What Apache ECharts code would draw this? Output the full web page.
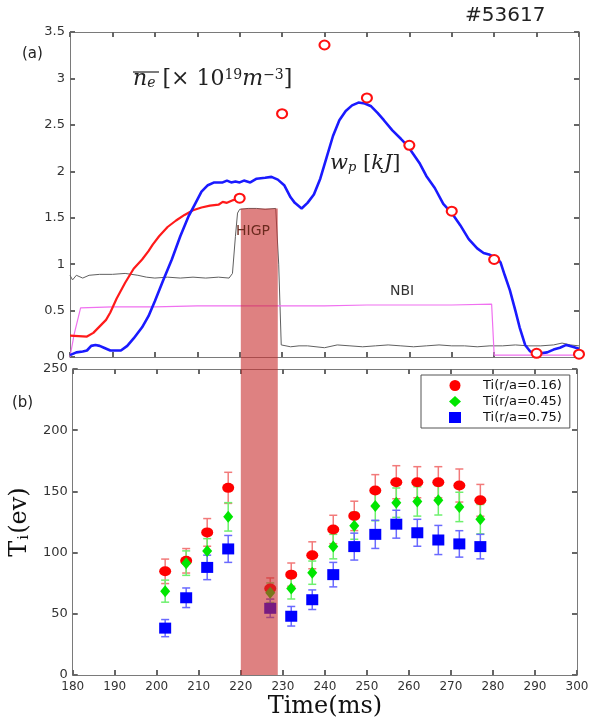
<!DOCTYPE html>
<html><head><meta charset="utf-8">
<script src="https://cdn.jsdelivr.net/npm/echarts@6/dist/echarts.min.js"></script>
<style>html,body{margin:0;padding:0;background:#fff}#c{width:593px;height:720px}</style>
</head><body><div id="c"></div>
<script>
// ---- panel (a) data ----
const neT = [180,184,185.5,187,188.5,189.5,191,193,195,197,198.5,199.5,201,203,205,207,209,211,213,215,216,217,218.5,219.5];
const neV = [0.23,0.22,0.26,0.33,0.40,0.48,0.63,0.80,0.95,1.05,1.14,1.21,1.30,1.40,1.47,1.53,1.58,1.61,1.63,1.64,1.67,1.66,1.69,1.70];

const wpT = [180,181.5,183,184,185,186,187,188,189.5,192,193.5,195,197,198.5,200,202,204,206,208,209.5,211,212.5,214,216,217,218,219,220,221,222.5,224,226,227.5,229,230.5,232,233,234.6,236,237.5,239,240.5,242,243.5,245,246.5,248,249.5,251,252.5,254,256,258,259.5,261,262.5,264,266,268,270,272,274,276,277.5,279,280.5,281.5,282.5,283.7,285,286,287.3,288.5,289.5,291,292.5,294,295.5,297,298.5,300];
const wpV = [0.02,0.05,0.06,0.07,0.12,0.13,0.12,0.10,0.07,0.07,0.12,0.20,0.32,0.44,0.60,0.83,1.05,1.30,1.52,1.65,1.78,1.85,1.88,1.88,1.90,1.88,1.89,1.88,1.90,1.88,1.92,1.93,1.94,1.91,1.85,1.72,1.66,1.60,1.66,1.75,1.92,2.15,2.38,2.55,2.65,2.71,2.74,2.73,2.70,2.63,2.55,2.44,2.35,2.28,2.18,2.08,1.95,1.82,1.65,1.55,1.42,1.27,1.17,1.12,1.10,1.07,1.02,0.88,0.72,0.50,0.32,0.13,0.06,0.04,0.04,0.05,0.08,0.10,0.13,0.11,0.09];

const higpT = [180,180.6,181.5,183,184.5,187,190,193,196,198,200,203,206,209,212,215,217.5,218.3,219,219.5,220,222,224,226,228.5,229.2,229.8,232,234,236,238,240,243,246,249,252,255,258,261,264,267,270,273,276,279,282,285,288,291,294,296,298,300];
const higpV = [0.88,0.83,0.88,0.85,0.88,0.89,0.89,0.90,0.88,0.86,0.85,0.86,0.85,0.86,0.85,0.86,0.85,0.90,1.30,1.55,1.59,1.60,1.60,1.59,1.60,1.00,0.13,0.11,0.12,0.12,0.11,0.10,0.13,0.12,0.11,0.12,0.13,0.12,0.11,0.12,0.13,0.12,0.12,0.11,0.12,0.12,0.13,0.12,0.12,0.13,0.15,0.13,0.12];

const nbiT = [180,181,182.5,190,200,210,220,230,240,250,260,270,279.4,280,300];
const nbiV = [0.00,0.25,0.53,0.54,0.54,0.55,0.55,0.55,0.55,0.56,0.56,0.56,0.57,0.02,0.02];

const circT = [220,230,240,250,260,270,280,290,300];
const circV = [1.71,2.62,3.36,2.79,2.28,1.57,1.05,0.04,0.03];

const barStart = 220, barEnd = 228.8, barTop = 1.6;

// ---- panel (b) data ----
const tiT = [202,207,212,217,227,232,237,242,247,252,257,262,267,272,277];
const ti16 = [84.7,93.3,116.5,152.9,70.6,82,97.8,118.9,130,150.7,157.5,157.5,157.5,154.8,142.7];
const ti16Err = [10,10,11.3,12.7,8.7,9.5,11,11.6,12,13,13.5,12.7,12.7,13.5,13];
const ti45 = [68.5,91.4,101.4,129.2,67.2,70.6,83.6,104.9,121.9,138,140.8,141.8,142.7,137.3,127.3];
const ti45Err = [9,10,10,11.6,8,8.5,9.5,10,11,12,12,12,12,12,12];
const ti75 = [38.3,63.1,87.9,103,54.5,48,61.5,82,104.9,114.9,123.2,116.2,110.3,107.1,104.9];
const ti75Err = [7,8,10,11,7.5,8,8,10,11,11.5,11.4,11,11.9,10.8,10];

const xTicksMin = 180, xTicksMax = 300, xInterval = 10;
const names = ['Ti(r/a=0.16)','Ti(r/a=0.45)','Ti(r/a=0.75)'];

const pairs = (a,b) => a.map((t,i)=>[t,b[i]]);
const triples = (a,b,c) => a.map((t,i)=>[t,b[i],c[i]]);

const chart = echarts.init(document.getElementById('c'), null, {renderer:'canvas'});
const axisCol = '#7a7a7a';
const mkTick = () => ({show:true, inside:true, length:5, lineStyle:{color:'#666', width:2}});
const lblStyle = {color:'#333', fontFamily:'DejaVu Sans', fontSize:12};

function xAx(grid, pos, labels, name){
  const o = {type:'value', gridIndex:grid, position:pos, min:xTicksMin, max:xTicksMax, interval:xInterval,
    axisLine:{show:true, onZero:false, lineStyle:{color:axisCol, width:1}},
    axisTick:mkTick(),
    axisLabel:Object.assign({show:labels, margin:6}, lblStyle),
    splitLine:{show:false}};
  if(name){
    o.name = name; o.nameLocation='middle'; o.nameGap=20;
    o.nameTextStyle = {fontFamily:'DejaVu Serif', fontSize:24, color:'#111'};
  }
  return o;
}
function yAx(grid, pos, min, max, interval, labels, name){
  const o = {type:'value', gridIndex:grid, position:pos, min, max, interval,
    axisLine:{show:true, onZero:false, lineStyle:{color:axisCol, width:1}},
    axisTick:mkTick(),
    axisLabel:Object.assign({show:labels, margin:5}, lblStyle, {fontSize:13}),
    splitLine:{show:false}};
  if(name){
    o.name = name; o.nameLocation='middle'; o.nameGap=34; o.nameRotate=90;
    o.nameTextStyle = {color:'#111', rich:{
      a:{fontFamily:'DejaVu Serif', fontSize:24, color:'#111'},
      b:{fontFamily:'DejaVu Serif', fontSize:15, color:'#111', verticalAlign:'bottom', padding:[0,1,0,1]}
    }};
  }
  return o;
}

function errRender(color){
  return function(params, api){
    const x = api.value(0), v = api.value(1), e = api.value(2);
    const top = api.coord([x, v+e]), bot = api.coord([x, v-e]);
    const hw = 4;
    const style = {stroke:color, lineWidth:1.5};
    return {type:'group', children:[
      {type:'line', shape:{x1:top[0],y1:top[1],x2:bot[0],y2:bot[1]}, style},
      {type:'line', shape:{x1:top[0]-hw,y1:top[1],x2:top[0]+hw,y2:top[1]}, style},
      {type:'line', shape:{x1:bot[0]-hw,y1:bot[1],x2:bot[0]+hw,y2:bot[1]}, style}
    ]};
  };
}

const option = {
  animation:false,
  backgroundColor:'#fff',
  grid:[
    {left:70, right:14, top:32, height:325},
    {left:67, right:16, top:369, height:309}
  ],
  xAxis:[xAx(0,'bottom',false), xAx(0,'top',false), xAx(1,'bottom',true,'Time(ms)'), xAx(1,'top',false)],
  yAxis:[yAx(0,'left',0,3.5,0.5,true), yAx(0,'right',0,3.5,0.5,false),
         yAx(1,'left',0,250,50,true,'{a|T}{b|i}{a|(ev)}'), yAx(1,'right',0,250,50,false)],
  legend:{
    data:names, orient:'vertical', left:421, top:375,
    padding:[4,8,4,28], itemGap:3, itemWidth:12, itemHeight:11,
    borderColor:'#555', borderWidth:1, backgroundColor:'#fff',
    textStyle:{fontFamily:'DejaVu Sans', fontSize:13, color:'#111', padding:[0,0,0,17]}
  },
  series:[
    {type:'line', name:'higp', xAxisIndex:0, yAxisIndex:0, data:pairs(higpT,higpV), showSymbol:false,
      lineStyle:{color:'#606060', width:1}, z:2},
    {type:'line', name:'nbi', xAxisIndex:0, yAxisIndex:0, data:pairs(nbiT,nbiV), showSymbol:false,
      lineStyle:{color:'#f070f0', width:1.2}, z:2},
    {type:'line', name:'ne', xAxisIndex:0, yAxisIndex:0, data:pairs(neT,neV), showSymbol:false,
      lineStyle:{color:'#ff1a1a', width:2.2}, z:3},
    {type:'line', name:'wp', xAxisIndex:0, yAxisIndex:0, data:pairs(wpT,wpV), showSymbol:false,
      lineStyle:{color:'#1a1aff', width:2.6}, z:3},
    {type:'scatter', name:'necirc', xAxisIndex:0, yAxisIndex:0, data:pairs(circT,circV), clip:false,
      symbol:'circle', symbolSize:[10,9], itemStyle:{color:'#fff', borderColor:'#ff1010', borderWidth:2, opacity:1}, z:4},

    {type:'custom', name:'e16', xAxisIndex:2, yAxisIndex:2, data:triples(tiT,ti16,ti16Err), renderItem:errRender('#f27a7a'), encode:{x:0,y:1}, z:2},
    {type:'scatter', name:names[0], xAxisIndex:2, yAxisIndex:2, data:pairs(tiT,ti16), symbol:'circle', symbolSize:[12,10], itemStyle:{color:'#ff0000', opacity:1}, z:2},
    {type:'custom', name:'e45', xAxisIndex:2, yAxisIndex:2, data:triples(tiT,ti45,ti45Err), renderItem:errRender('#6ef06e'), encode:{x:0,y:1}, z:2},
    {type:'scatter', name:names[1], xAxisIndex:2, yAxisIndex:2, data:pairs(tiT,ti45), symbol:'diamond', symbolSize:[10,12], itemStyle:{color:'#00e600', opacity:1}, z:2},
    {type:'custom', name:'e75', xAxisIndex:2, yAxisIndex:2, data:triples(tiT,ti75,ti75Err), renderItem:errRender('#6a6aff'), encode:{x:0,y:1}, z:2},
    {type:'scatter', name:names[2], xAxisIndex:2, yAxisIndex:2, data:pairs(tiT,ti75), symbol:'rect', symbolSize:[12,11], itemStyle:{color:'#0000ff', opacity:1}, z:2}
  ]
};
chart.setOption(option);

const xL = chart.convertToPixel({xAxisIndex:2}, barStart);
const xR = chart.convertToPixel({xAxisIndex:2}, barEnd);
const yT = chart.convertToPixel({yAxisIndex:0}, barTop);
const yB = chart.convertToPixel({yAxisIndex:2}, 0);

chart.setOption({
  graphic:[
    {type:'rect', z:100, shape:{x:xL, y:yT, width:xR-xL, height:yB-yT},
      style:{fill:'rgba(200,45,45,0.6)'}},
    {type:'text', z:110, left:236, top:224, style:{text:'HIGP', fill:'#6b2a1e', font:'14px "DejaVu Sans"'}},
    {type:'text', z:110, left:390, top:284, style:{text:'NBI', fill:'#333', font:'14px "DejaVu Sans"'}},
    {type:'text', z:110, left:22, top:47, style:{text:'(a)', fill:'#222', font:'15px "DejaVu Sans"'}},
    {type:'text', z:110, left:12, top:396, style:{text:'(b)', fill:'#222', font:'15px "DejaVu Sans"'}},
    {type:'text', z:110, left:465, top:6, style:{text:'#53617', fill:'#222', font:'20px "DejaVu Sans"'}},
    {type:'text', z:110, left:133, top:68, style:{
      text:'{n|n}{s|e}{t| [× 10}{p|19}{i|m}{p|−3}{t|]}',
      rich:{
        n:{fontFamily:'DejaVu Serif', fontStyle:'italic', fontSize:22, fill:'#222'},
        s:{fontFamily:'DejaVu Serif', fontStyle:'italic', fontSize:14, fill:'#222', verticalAlign:'bottom'},
        t:{fontFamily:'DejaVu Serif', fontSize:22, fill:'#222'},
        i:{fontFamily:'DejaVu Serif', fontStyle:'italic', fontSize:22, fill:'#222'},
        p:{fontFamily:'DejaVu Serif', fontSize:14, fill:'#222', verticalAlign:'top'}
      }}},
    {type:'line', z:110, shape:{x1:133, y1:72, x2:159, y2:72}, style:{stroke:'#222', lineWidth:1.2}},
    {type:'text', z:110, left:330, top:153, style:{
      text:'{i|w}{s|p}{t| [}{i|kJ}{t|]}',
      rich:{
        i:{fontFamily:'DejaVu Serif', fontStyle:'italic', fontSize:21, fill:'#222'},
        s:{fontFamily:'DejaVu Serif', fontStyle:'italic', fontSize:13, fill:'#222', verticalAlign:'bottom'},
        t:{fontFamily:'DejaVu Serif', fontSize:21, fill:'#222'}
      }}}
  ]
});
</script>
</body></html>
